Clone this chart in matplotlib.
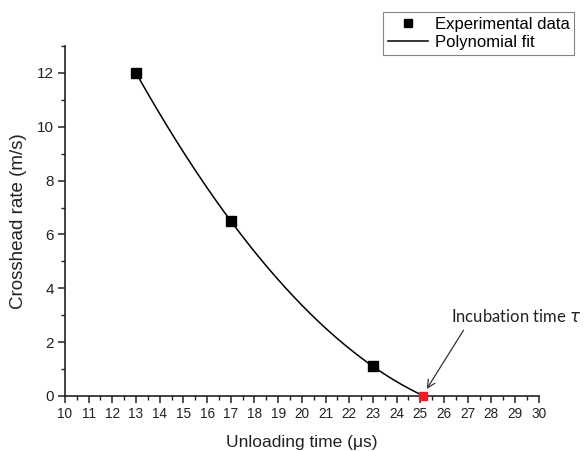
import numpy as np
import matplotlib
matplotlib.use("Agg")
import matplotlib.pyplot as plt
from matplotlib.ticker import MultipleLocator

# Data
time_us = [13, 17, 23]
rate_ms = [12.0, 6.5, 1.1]
incubation_time = [25.1]
incubation_rate = [0.0]
fit_end = 25.1

plt.rcParams['font.family'] = ['Liberation Sans', 'DejaVu Sans']

fig = plt.figure(figsize=(5.85, 4.51), dpi=100)
ax = fig.add_axes([0.111, 0.122, 0.81, 0.776])

coef = np.polyfit(time_us, rate_ms, 2)
xf = np.linspace(time_us[0], fit_end, 200)
yf = np.polyval(coef, xf)

fit_line, = ax.plot(xf, yf, color='black', lw=1.1, label='Polynomial fit', clip_on=False)
pts, = ax.plot(time_us, rate_ms, 's', color='black', ms=6.5, ls='none',
               label='Experimental data', clip_on=False, zorder=3)
ax.plot(incubation_time, incubation_rate, 's', color='#ee1c25', ms=5.5,
        clip_on=False, zorder=4)

ax.set_xlim(10, 30)
ax.set_ylim(0, 13)
ax.xaxis.set_major_locator(MultipleLocator(1))
ax.xaxis.set_minor_locator(MultipleLocator(0.5))
ax.yaxis.set_minor_locator(MultipleLocator(1))
ax.set_yticks([0, 2, 4, 6, 8, 10, 12])
ax.spines['top'].set_visible(False)
ax.spines['right'].set_visible(False)
for s in ['left', 'bottom']:
    ax.spines[s].set_linewidth(1.2)
    ax.spines[s].set_color('#222222')
ax.tick_params(which='major', direction='out', length=5, width=1.1,
               colors='#222222', pad=3)
ax.tick_params(axis='x', which='major', labelsize=9.8)
ax.tick_params(axis='y', which='major', labelsize=11)
ax.tick_params(which='minor', direction='out', length=3, width=1.0, colors='#222222')

ax.set_xlabel('Unloading time (\u03bcs)', fontsize=12.5, color='#222222', labelpad=10)
ax.set_ylabel('Crosshead rate (m/s)', fontsize=13.5, color='#222222', labelpad=7)

ax.annotate('Incubation time $\\tau$', xy=(25.27, 0.26), xytext=(26.3, 2.95),
            fontsize=12, family=['Lato', 'DejaVu Sans'], color='#222222',
            va='center', ha='left', annotation_clip=False,
            arrowprops=dict(arrowstyle='->', color='#333333', lw=0.9,
                            relpos=(0.12, 0.0), shrinkA=2, shrinkB=0,
                            mutation_scale=14))

leg = fig.legend(handles=[pts, fit_line], loc='upper right',
                 bbox_to_anchor=(0.982, 0.974), fontsize=12, frameon=True,
                 fancybox=False, edgecolor='#666666', borderpad=0.3,
                 handlelength=2.4, handletextpad=0.4, labelspacing=0.2,
                 borderaxespad=0, markerscale=0.85)
leg.get_frame().set_linewidth(0.8)

fig.savefig('out.png', dpi=100)
